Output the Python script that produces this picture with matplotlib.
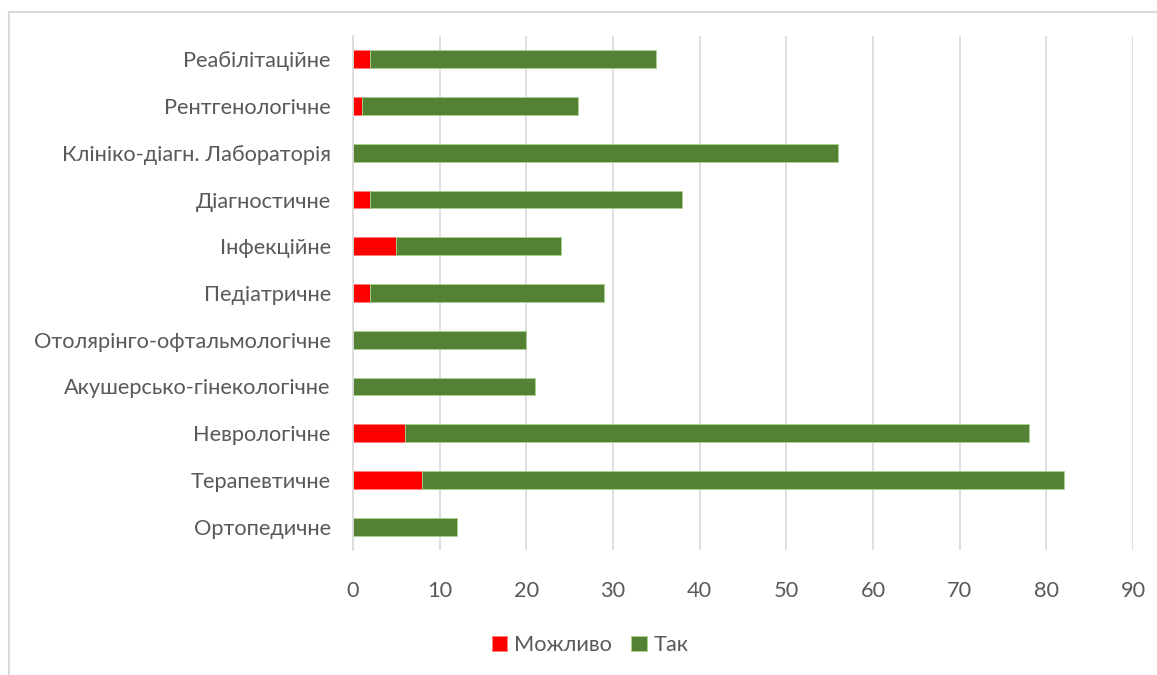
import matplotlib
matplotlib.use("Agg")
import matplotlib.pyplot as plt
from matplotlib.patches import Rectangle

categories = [
    "Реабілітаційне",
    "Рентгенологічне",
    "Клініко-діагн. Лабораторія",
    "Діагностичне",
    "Інфекційне",
    "Педіатричне",
    "Отолярінго-офтальмологічне",
    "Акушерсько-гінекологічне",
    "Неврологічне",
    "Терапевтичне",
    "Ортопедичне",
]
maybe = [2, 1, 0, 2, 5, 2, 0, 0, 6, 8, 0]
yes = [33, 25, 56, 36, 19, 27, 20, 21, 72, 74, 12]
x_ticks = [0, 10, 20, 30, 40, 50, 60, 70, 80, 90]

plt.rcParams["font.family"] = ["Lato", "DejaVu Sans"]
text_color = "#595959"
fs = 15.7

W, H = 1157, 675
fig = plt.figure(figsize=(W / 100, H / 100), dpi=100)
fig.patches.append(Rectangle((9 / W, -0.1), 1.2, 1 - 12 / H + 0.1,
                             transform=fig.transFigure, fill=False,
                             edgecolor="#d9d9d9", linewidth=1.5))

ax = fig.add_axes([353 / W, 1 - 550 / H, (1133 - 353) / W, (550 - 36) / H])
pos = list(range(len(categories)))
h = 0.38
ax.barh(pos, maybe, height=h, color="#FF0000", edgecolor="#FF8080",
        linewidth=0.6, label="Можливо")
ax.barh(pos, yes, left=maybe, height=h, color="#548235", edgecolor="#A9D18E",
        linewidth=0.6, label="Так")

ax.set_ylim(len(categories) - 0.5, -0.5)
ax.set_xlim(0, 90)
ax.set_xticks(x_ticks)
ax.set_yticks(pos)
ax.set_yticklabels(categories)
ax.grid(axis="x", color="#d9d9d9", linewidth=1.2)
ax.set_axisbelow(True)
for s in ["top", "right", "bottom"]:
    ax.spines[s].set_visible(False)
ax.spines["left"].set_color("#d9d9d9")
ax.spines["left"].set_linewidth(1.2)
ax.tick_params(axis="both", length=0, colors=text_color, labelsize=fs)
ax.tick_params(axis="y", pad=16)
ax.tick_params(axis="x", pad=22)

fig.legend(loc="center", bbox_to_anchor=(590 / W, 1 - 645 / H), ncol=2,
           frameon=False, fontsize=fs, labelcolor=text_color,
           handlelength=0.72, handleheight=0.72, handletextpad=0.3,
           columnspacing=0.9)

fig.savefig("out.png", dpi=100)
